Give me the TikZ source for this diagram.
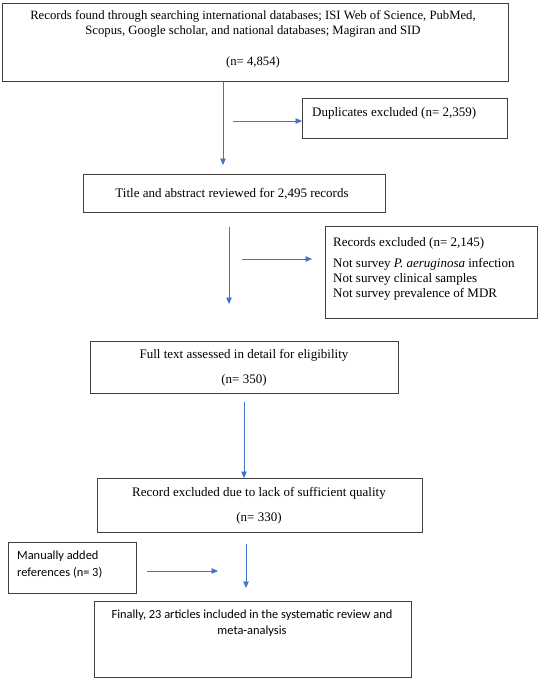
\documentclass[tikz,border=0pt]{standalone}
\usepackage{fontspec}
\setmainfont{Liberation Serif}
\newfontfamily\calfont{Carlito}
\usetikzlibrary{arrows.meta}
\definecolor{arrowblue}{RGB}{68,114,196}
\definecolor{boxgray}{RGB}{64,64,64}
\begin{document}
\begin{tikzpicture}[x=1bp,y=-1bp,
  box/.style={draw=boxgray,line width=0.9bp,rectangle,inner sep=0pt,anchor=north west},
  txt/.style={font=\fontsize{13bp}{15bp}\selectfont,inner sep=0pt,anchor=base},
  toptxt/.style={txt,font=\fontsize{12.7bp}{15bp}\selectfont},
  ltxt/.style={txt,anchor=base west},
  stxt/.style={font=\calfont\fontsize{12.4bp}{15bp}\selectfont,inner sep=0pt,anchor=base},
  sltxt/.style={stxt,anchor=base west},
  arr/.style={draw=arrowblue,line width=0.8bp,-{Triangle[length=6.5bp,width=5.5bp]}}]
\useasboundingbox (0,0) rectangle (539,678);
% boxes
\node[box,minimum width=506bp,minimum height=78bp] (top) at (2,3) {};
\node[box,minimum width=205bp,minimum height=40bp] (dup) at (302,98) {};
\node[box,minimum width=302bp,minimum height=38bp] (title) at (83,174) {};
\node[box,minimum width=212bp,minimum height=92bp] (recex) at (325,226) {};
\node[box,minimum width=308bp,minimum height=52bp] (full) at (90,341) {};
\node[box,minimum width=325bp,minimum height=54bp] (qual) at (97,478) {};
\node[box,minimum width=128bp,minimum height=51bp] (man) at (8,542) {};
\node[box,minimum width=317bp,minimum height=76bp] (fin) at (94,601) {};
% texts
\node[toptxt] (t1a) at (253,20) {Records found through searching international databases; ISI Web of Science, PubMed,};
\node[toptxt] (t1b) at (253,35) {Scopus, Google scholar, and national databases; Magiran and SID};
\node[toptxt] (t1c) at (253,66) {(n= 4,854)};
\node[ltxt] (t2) at (312,117) {Duplicates excluded (n= 2,359)};
\node[txt] (t3) at (232,197) {Title and abstract reviewed for 2,495 records};
\node[ltxt] (t4a) at (333,246) {Records excluded (n= 2,145)};
\node[ltxt] (t4b) at (333,267) {Not survey \textit{P. aeruginosa} infection};
\node[ltxt] (t4c) at (333,282) {Not survey clinical samples};
\node[ltxt] (t4d) at (333,297) {Not survey prevalence of MDR};
\node[txt] (t5a) at (244,358) {Full text assessed in detail for eligibility};
\node[txt] (t5b) at (244,383) {(n= 350)};
\node[txt] (t6a) at (259,496) {Record excluded due to lack of sufficient quality};
\node[txt] (t6b) at (259,521) {(n= 330)};
\node[sltxt] (t7a) at (17,559) {Manually added};
\node[sltxt] (t7b) at (17,576) {references (n= 3)};
\node[stxt] (t8a) at (252,618) {Finally, 23 articles included in the systematic review and};
\node[stxt] (t8b) at (252,634) {meta-analysis};
% connector ends
\coordinate (a1s) at (223,81);
\coordinate (a1e) at (223,165);
\coordinate (a2s) at (233,121);
\coordinate (a3s) at (229,227);
\coordinate (a3e) at (229,304);
\coordinate (a4s) at (242,259);
\coordinate (a4e) at (312,259);
\coordinate (a5s) at (244,402);
\coordinate (a6s) at (246,544);
\coordinate (a6e) at (246,588);
\coordinate (a7s) at (147,571);
\coordinate (a7e) at (218,571);
% connectors
\draw[arr] (a1s) -- (a1e);
\draw[arr] (a2s) -- (a2s -| dup.west);
\draw[arr] (a3s) -- (a3e);
\draw[arr] (a4s) -- (a4e);
\draw[arr] (a5s) -- (a5s |- qual.north);
\draw[arr] (a6s) -- (a6e);
\draw[arr] (a7s) -- (a7e);
\end{tikzpicture}
\end{document}
